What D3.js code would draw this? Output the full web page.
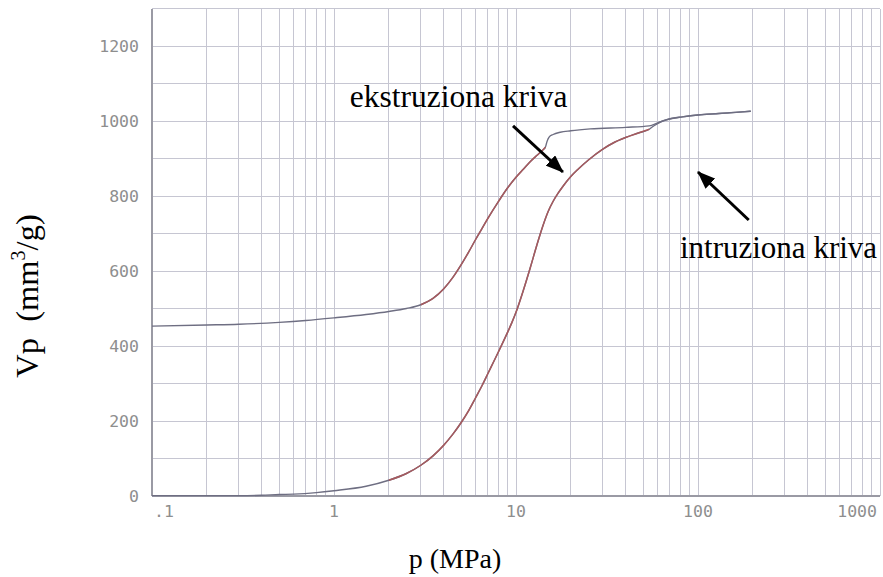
<!DOCTYPE html>
<html>
<head>
<meta charset="utf-8">
<script src="https://cdn.jsdelivr.net/npm/d3@7"></script>
<style>
  body { margin: 0; background: #fff; }
  svg { display: block; }
  text { white-space: pre; }
</style>
</head>
<body>
<svg id="chart" width="883" height="577"></svg>
<script>
// intrusion curve (lower branch, rising with pressure) - p in MPa, V in mm3/g
const intrusionP = [0.1, 0.2, 0.3, 0.4, 0.5, 0.6, 0.8, 1, 1.5, 2, 2.5, 3, 3.5, 4, 4.5, 5, 5.5, 6, 6.5, 7, 7.5, 8, 8.5, 9, 9.5, 10, 11, 12, 13, 14, 15, 16, 17, 18, 20, 22, 25, 30, 35, 40, 47, 54, 56, 60, 64, 70, 82, 100, 130, 160, 195]
const intrusionV = [1, 1, 1, 2, 4, 5, 9, 14, 26, 42, 60, 82, 107, 135, 165, 196, 228, 262, 294, 326, 356, 384, 411, 437, 463, 490, 550, 610, 668, 718, 758, 786, 807, 824, 852, 872, 896, 925, 944, 956, 968, 978, 984, 993, 1000, 1006, 1011, 1016, 1020, 1023, 1026]
// extrusion curve (upper branch)
const extrusionP = [0.1, 0.2, 0.3, 0.5, 0.7, 1, 1.5, 2, 2.5, 3, 3.5, 4, 4.5, 5, 5.5, 6, 6.5, 7, 8, 9, 10, 11, 12, 13, 14, 14.5, 14.8, 15.2, 16, 17.5, 20, 25.6, 40, 54, 60, 67, 82, 100, 150, 195]
const extrusionV = [453, 456, 458, 463, 468, 475, 484, 492, 500, 510, 527, 552, 583, 617, 651, 684, 713, 740, 785, 822, 850, 872, 892, 908, 922, 930, 945, 957, 964, 970, 974, 979, 983, 987, 995, 1003, 1011, 1016, 1022, 1026]
// pressure ranges drawn in the reddish trace colour
const intrusionRed = [1.8, 55]
const extrusionRed = [3, 14.5]

const xTicks = [0.1, 1, 10, 100, 1000]
const xTickLabels = ['.1', '1', '10', '100', '1000']
const yTicks = [0, 200, 400, 600, 800, 1000, 1200]

const W = 883, H = 577
const m = { top: 8.5, right: 3, bottom: 81, left: 152 }
const svg = d3.select('#chart')
const x = d3.scaleLog().domain([0.1, 1000]).range([m.left, W - m.right])
const y = d3.scaleLinear().domain([0, 1300]).range([H - m.bottom, m.top])

// grid
const vGrid = []
;[0.1, 1, 10, 100].forEach(d => { for (let k = 1; k <= 9; k++) vGrid.push(+(k * d).toPrecision(3)) })
vGrid.push(1000)
const grid = svg.append('g').attr('stroke', '#c6c6d2').attr('stroke-width', 1).attr('shape-rendering', 'crispEdges')
grid.selectAll('.v').data(vGrid).enter().append('line')
  .attr('x1', d => x(d)).attr('x2', d => x(d)).attr('y1', y(1300)).attr('y2', y(0))
grid.selectAll('.h').data(d3.range(0, 1301, 100)).enter().append('line')
  .attr('x1', x(0.1)).attr('x2', x(1000)).attr('y1', d => y(d)).attr('y2', d => y(d))
// axes lines
const ax = svg.append('g').attr('stroke', '#9a9aa4').attr('stroke-width', 1.2).attr('shape-rendering', 'crispEdges')
ax.append('line').attr('x1', x(0.1)).attr('x2', x(0.1)).attr('y1', y(1300)).attr('y2', y(0))
ax.append('line').attr('x1', x(0.1)).attr('x2', x(1000)).attr('y1', y(0)).attr('y2', y(0))

// tick labels
const tickFont = '"DejaVu Sans Mono", monospace'
svg.append('g').selectAll('text').data(yTicks).enter().append('text')
  .attr('x', m.left - 13).attr('y', d => y(d)).attr('dy', '0.36em')
  .attr('text-anchor', 'end').attr('font-family', tickFont).attr('font-size', 16.5).attr('fill', '#8e8e8e')
  .text(d => d)
svg.append('g').selectAll('text').data(xTicks).enter().append('text')
  .attr('x', (d, i) => x(d) + (i === 0 ? 2 : i === xTicks.length - 1 ? -3 : 0))
  .attr('y', 517)
  .attr('text-anchor', (d, i) => i === 0 ? 'start' : i === xTicks.length - 1 ? 'end' : 'middle')
  .attr('font-family', tickFont).attr('font-size', 16.5).attr('fill', '#8e8e8e')
  .text((d, i) => xTickLabels[i])

// curves
const line = d3.line().x(d => x(d[0])).y(d => y(d[1])).curve(d3.curveMonotoneX)
function drawCurve(ps, vs, red) {
  const pts = ps.map((p, i) => [p, vs[i]])
  svg.append('path').datum(pts).attr('d', line).attr('fill', 'none').attr('stroke', '#6e6e82').attr('stroke-width', 1.4)
  svg.append('path').datum(pts.filter(d => d[0] >= red[0] && d[0] <= red[1])).attr('d', line)
    .attr('fill', 'none').attr('stroke', '#a65a5e').attr('stroke-width', 1.5)
}
drawCurve(intrusionP, intrusionV, intrusionRed)
drawCurve(extrusionP, extrusionV, extrusionRed)

// annotations
svg.append('defs').append('marker').attr('id', 'head')
  .attr('markerUnits', 'userSpaceOnUse').attr('viewBox', '0 0 18 14')
  .attr('markerWidth', 18).attr('markerHeight', 14).attr('refX', 17).attr('refY', 7).attr('orient', 'auto')
  .append('path').attr('d', 'M0,0 L18,7 L0,14 Z').attr('fill', '#000')
const arrows = [
  { from: [9.63, 987], to: [18.1, 864] },
  { from: [190, 736], to: [100, 864] }
]
svg.append('g').selectAll('line').data(arrows).enter().append('line')
  .attr('x1', d => x(d.from[0])).attr('y1', d => y(d.from[1]))
  .attr('x2', d => x(d.to[0])).attr('y2', d => y(d.to[1]))
  .attr('stroke', '#000').attr('stroke-width', 3).attr('marker-end', 'url(#head)')

const serif = '"Liberation Serif", "Times New Roman", serif'
svg.append('text').attr('x', x(1.22)).attr('y', y(1037)).attr('font-family', serif).attr('font-size', 31.5).text('ekstruziona kriva')
svg.append('text').attr('x', x(79.6)).attr('y', y(635)).attr('font-family', serif).attr('font-size', 31).text('intruziona kriva')

// axis titles
svg.append('text').attr('x', 455).attr('y', 568).attr('text-anchor', 'middle')
  .attr('font-family', serif).attr('font-size', 28).text('p (MPa)')
const yt = svg.append('text').attr('transform', 'translate(38,296) rotate(-90)').attr('text-anchor', 'middle')
  .attr('font-family', serif).attr('font-size', 32.5)
yt.append('tspan').text('Vp  (mm')
yt.append('tspan').attr('font-size', 20).attr('dy', -13).text('3')
yt.append('tspan').attr('dy', 13).text('/g)')
</script>
</body>
</html>
